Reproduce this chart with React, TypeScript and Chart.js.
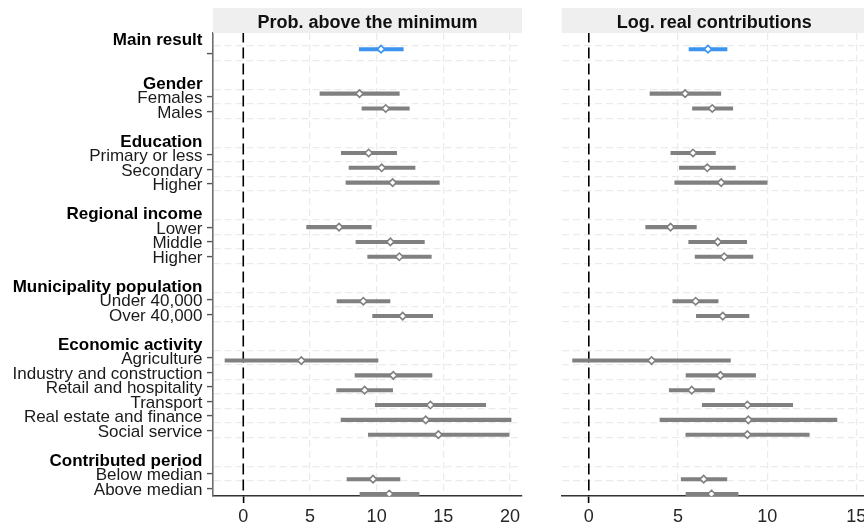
import React, { useEffect, useRef } from "react";
import { Chart, registerables } from "chart.js";

Chart.register(...registerables);

const FONT = '"Liberation Sans", Arial, Helvetica, sans-serif';

// ---- Data (top-to-bottom order) ----
const groupTitles = [
  "Main result",
  "Gender",
  "Education",
  "Regional income",
  "Municipality population",
  "Economic activity",
  "Contributed period",
];

const groupItems = [
  [""],
  ["Females", "Males"],
  ["Primary or less", "Secondary", "Higher"],
  ["Lower", "Middle", "Higher"],
  ["Under 40,000", "Over 40,000"],
  [
    "Agriculture",
    "Industry and construction",
    "Retail and hospitality",
    "Transport",
    "Real estate and finance",
    "Social service",
  ],
  ["Below median", "Above median"],
];

const panelTitles = ["Prob. above the minimum", "Log. real contributions"];

// Prob. above the minimum
const probEst = [10.33, 8.72, 10.68, 9.4, 10.38, 11.2, 7.18, 11.03, 11.7, 9.0, 11.95, 4.35, 11.25, 9.1, 14.03, 13.68, 14.63, 9.73, 10.95];
const probLow = [8.7, 5.75, 8.9, 7.35, 7.93, 7.7, 4.75, 8.45, 9.33, 7.03, 9.7, -1.37, 8.38, 7.0, 9.9, 7.33, 9.38, 7.78, 8.75];
const probHigh = [12.0, 11.7, 12.45, 11.5, 12.88, 14.7, 9.6, 13.58, 14.1, 11.0, 14.2, 10.1, 14.15, 11.2, 18.18, 20.08, 19.93, 11.75, 13.18];

// Log. real contributions
const logEst = [6.68, 5.4, 6.92, 5.84, 6.64, 7.42, 4.58, 7.23, 7.59, 5.99, 7.51, 3.52, 7.38, 5.77, 8.89, 8.94, 8.89, 6.44, 6.88];
const logLow = [5.62, 3.43, 5.81, 4.6, 5.08, 4.82, 3.19, 5.6, 5.96, 4.71, 6.03, -0.91, 5.45, 4.51, 6.36, 3.99, 5.44, 5.18, 5.45];
const logHigh = [7.75, 7.4, 8.07, 7.1, 8.22, 10.0, 6.03, 8.85, 9.2, 7.25, 8.98, 7.94, 9.35, 7.05, 11.43, 13.91, 12.36, 7.74, 8.37];

const xTicksProb = [0, 5, 10, 15, 20];
const xTicksLog = [0, 5, 10, 15];

const BLUE = "#3d94f0";
const GRAY = "#808080";

// ---- Row structure ----
type Row = { r: number; label: string; header: boolean };
const totalItems = groupItems.reduce((s, g) => s + g.length, 0);
const TOP_ROW = groupTitles.length * 2 - 1 + totalItems - 1;
const LABEL_SHIFT = 0.12;
const rows: Row[] = [];
const itemRows: number[] = [];
const itemGroup: number[] = [];
{
  let r = TOP_ROW;
  groupTitles.forEach((t, g) => {
    rows.push({ r, label: t, header: true });
    r--;
    groupItems[g].forEach((it) => {
      rows.push({ r, label: it, header: false });
      itemRows.push(r);
      itemGroup.push(g);
      r--;
    });
    r--;
  });
}

// y-axis tick list: labels (slightly shifted), tick marks at data rows, grid lines at half rows
type YTick = { value: number; kind: "label" | "mark" | "grid"; row?: Row };
const yTickList: YTick[] = [];
rows.forEach((rw) => {
  if (rw.label) yTickList.push({ value: rw.r - LABEL_SHIFT, kind: "label", row: rw });
});
itemRows.forEach((r) => yTickList.push({ value: r, kind: "mark" }));
const halfSet = new Set<number>();
itemRows.forEach((r) => {
  halfSet.add(r - 0.5);
  halfSet.add(r + 0.5);
});
halfSet.forEach((v) => yTickList.push({ value: v, kind: "grid" }));
yTickList.sort((a, b) => a.value - b.value);
const yTickInfo = (v: number) => yTickList.find((t) => Math.abs(t.value - v) < 1e-6);

const headerPlugin = (title: string) => ({
  id: "panelHeader",
  afterDraw(chart: any) {
    const { ctx, chartArea } = chart;
    ctx.save();
    ctx.fillStyle = "#efefef";
    ctx.fillRect(chartArea.left, 8, chartArea.right - chartArea.left, chartArea.top - 8);
    ctx.fillStyle = "#111111";
    ctx.font = `bold 18px ${FONT}`;
    ctx.textAlign = "center";
    ctx.textBaseline = "alphabetic";
    ctx.fillText(title, (chartArea.left + chartArea.right) / 2, 27.5);
    ctx.restore();
  },
});

function makePanel(
  canvas: HTMLCanvasElement,
  opts: {
    title: string;
    est: number[];
    lo: number[];
    hi: number[];
    xMin: number;
    xMax: number;
    xTicks: number[];
    showLabels: boolean;
    padLeft: number;
    padRight: number;
  }
) {
  const colors = itemGroup.map((g) => (g === 0 ? BLUE : GRAY));

  return new Chart(canvas, {
    type: "scatter",
    data: {
      datasets: [
        {
          type: "scatter",
          data: itemRows.map((r, i) => ({ x: opts.est[i], y: r })),
          xAxisID: "x",
          yAxisID: "yd",
          pointStyle: "rectRot",
          pointRadius: 3.7,
          pointHoverRadius: 3.7,
          pointBorderWidth: 1.6,
          pointBackgroundColor: "#ffffff",
          pointBorderColor: colors,
          order: 1,
        } as any,
        {
          type: "bar",
          indexAxis: "y",
          data: itemRows.map((r, i) => ({ x: [opts.lo[i], opts.hi[i]], y: r })),
          xAxisID: "x",
          yAxisID: "yd",
          backgroundColor: colors,
          borderWidth: 0,
          barThickness: 3.4,
          order: 2,
        } as any,
        {
          type: "line",
          data: [
            { x: 0, y: -3 },
            { x: 0, y: 40 },
          ],
          xAxisID: "x",
          yAxisID: "yd",
          borderColor: "#000000",
          borderWidth: 1.6,
          borderDash: [11, 5],
          pointRadius: 0,
          order: 3,
        } as any,
      ],
    },
    options: {
      animation: false,
      responsive: false,
      devicePixelRatio: 1,
      events: [],
      layout: { padding: { top: 33, left: opts.padLeft, right: opts.padRight, bottom: 0 } },
      plugins: { legend: { display: false }, tooltip: { enabled: false }, title: { display: false } },
      scales: {
        x: {
          type: "linear",
          min: opts.xMin,
          max: opts.xMax,
          offset: false,
          afterBuildTicks: (s: any) => {
            s.ticks = opts.xTicks.map((v) => ({ value: v }));
          },
          afterFit: (s: any) => {
            s.height = 28;
          },
          grid: {
            offset: false,
            color: (c: any) => (c.tick && c.tick.value === 0 ? "rgba(0,0,0,0)" : "#ebebeb"),
            lineWidth: 1.2,
            tickColor: (c: any) => (c.tick && c.tick.value === 0 ? "#000000" : "rgba(0,0,0,0)"),
            tickLength: 7,
            tickWidth: 1.6,
          },
          border: { display: true, color: "#333333", width: 1.4, dash: [7, 4] },
          ticks: {
            font: { family: FONT, size: 18 },
            color: "#262626",
            padding: 3,
            maxRotation: 0,
            autoSkip: false,
          },
        },
        y: {
          type: "linear",
          position: "left",
          min: -0.531,
          max: 31.4,
          offset: false,
          afterBuildTicks: (s: any) => {
            s.ticks = yTickList.map((t) => ({ value: t.value }));
          },
          afterFit: (s: any) => {
            s.width = opts.showLabels ? 213 : 0;
          },
          grid: {
            offset: false,
            color: (c: any) => {
              const t = c.tick ? yTickInfo(c.tick.value) : undefined;
              return t && t.kind === "grid" ? "#ebebeb" : "rgba(0,0,0,0)";
            },
            lineWidth: 1.2,
            drawTicks: opts.showLabels,
            tickColor: (c: any) => {
              const t = c.tick ? yTickInfo(c.tick.value) : undefined;
              return t && t.kind === "mark" ? "#555555" : "rgba(0,0,0,0)";
            },
            tickLength: 6,
            tickWidth: 1.4,
          },
          border: { display: opts.showLabels, color: "#6e6e6e", width: 1.6, dash: [7, 4] },
          ticks: {
            display: opts.showLabels,
            autoSkip: false,
            padding: 4.5,
            callback: (v: any) => {
              const t = yTickInfo(Number(v));
              return t && t.kind === "label" && t.row ? t.row.label : "";
            },
            font: (c: any) => {
              const t = c.tick ? yTickInfo(c.tick.value) : undefined;
              const bold = !!(t && t.row && t.row.header);
              return { family: FONT, size: 17, weight: bold ? "bold" : "normal" };
            },
            color: (c: any) => {
              const t = c.tick ? yTickInfo(c.tick.value) : undefined;
              return t && t.row && t.row.header ? "#000000" : "#1a1a1a";
            },
          },
        },
        yd: {
          type: "linear",
          axis: "y",
          display: false,
          offset: false,
          min: -0.135,
          max: 31.09,
          grid: { offset: false },
        },
      },
    } as any,
    plugins: [headerPlugin(opts.title)],
  });
}

export default function App() {
  const leftRef = useRef<HTMLCanvasElement | null>(null);
  const rightRef = useRef<HTMLCanvasElement | null>(null);

  useEffect(() => {
    Chart.defaults.font.family = FONT;
    const left = makePanel(leftRef.current!, {
      title: panelTitles[0],
      est: probEst,
      lo: probLow,
      hi: probHigh,
      xMin: -2.27,
      xMax: 20.9,
      xTicks: xTicksProb,
      showLabels: true,
      padLeft: 0,
      padRight: 8,
    });
    const right = makePanel(rightRef.current!, {
      title: panelTitles[1],
      est: logEst,
      lo: logLow,
      hi: logHigh,
      xMin: -1.52,
      xMax: 15.58,
      xTicks: xTicksLog,
      showLabels: false,
      padLeft: 30.7,
      padRight: 3,
    });
    return () => {
      left.destroy();
      right.destroy();
    };
  }, []);

  return (
    <div
      style={{
        position: "fixed",
        left: 0,
        top: 0,
        width: 864,
        height: 524,
        overflow: "hidden",
        background: "#ffffff",
      }}
    >
      <canvas ref={leftRef} width={530} height={524} style={{ position: "absolute", left: 0, top: 0 }} />
      <canvas ref={rightRef} width={341} height={524} style={{ position: "absolute", left: 531, top: 0 }} />
    </div>
  );
}
